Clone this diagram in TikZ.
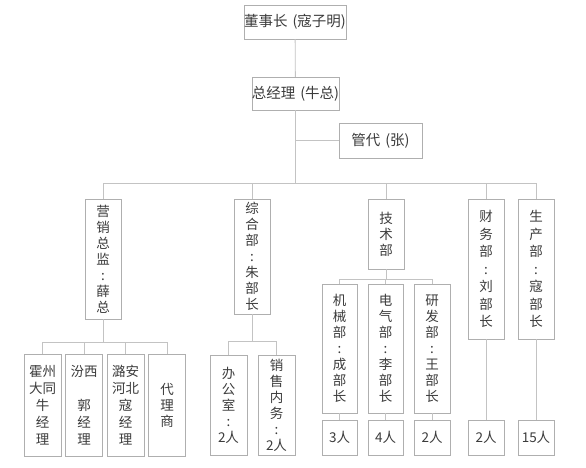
\documentclass[tikz,border=0pt]{standalone}
\usepackage{fontspec}
\setmainfont{Noto Sans CJK SC}
\definecolor{linegray}{RGB}{195,195,195}
\definecolor{boxgray}{RGB}{175,175,175}
\definecolor{txtgray}{RGB}{60,60,60}
\begin{document}
\begin{tikzpicture}[
        x=1pt, y=-1pt,
        box/.style={rectangle, draw=boxgray, fill=white, inner sep=0pt, align=center, text=txtgray,
            minimum width=36pt, font=\fontsize{13.5}{16}\selectfont},
        topbox/.style={box, font=\fontsize{14.5}{18}\selectfont},
        numbox/.style={box, minimum height=35pt},
        link/.style={draw=linegray, line width=0.8pt}
    ]
        \useasboundingbox (0,0) rectangle (586,468);

        % top
        \node[topbox, minimum width=100pt, minimum height=34pt] (dsz) at (295,22) {董事长\,\,(寇子明)};
        \node[topbox, minimum width=83pt, minimum height=33pt] (zjl) at (295.5,93.5) {总经理\,\,(牛总)};
        \node[topbox, minimum width=83pt, minimum height=35pt] (gd) at (380.5,140.5) {管代\,\,(张)};
        \coordinate (bus) at (295.5,183);

        % departments
        \node[box, minimum height=120pt] (yx) at (103,259) {营\\销\\总\\监\\:\\薛\\总};
        \node[box, minimum height=115pt] (zh) at (252,256.5) {综\\合\\部\\:\\朱\\部\\长};
        \node[box, minimum height=70pt] (js) at (386,234) {技\\术\\部};
        \node[box, minimum height=140pt, font=\fontsize{13.5}{17.5}\selectfont] (cw) at (486,269) {财\\务\\部\\:\\刘\\部\\长};
        \node[box, minimum height=140pt, font=\fontsize{13.5}{17.5}\selectfont] (sc) at (536,269) {生\\产\\部\\:\\寇\\部\\长};

        % sales
        \node[box, minimum width=37pt, minimum height=102pt, font=\fontsize{13.5}{17}\selectfont] (hz) at (42.5,405) {霍州\\大同\\牛\\经\\理};
        \node[box, minimum width=37pt, minimum height=102pt, font=\fontsize{13.5}{17}\selectfont] (fx) at (84,405) {汾西\\\phantom{大同}\\郭\\经\\理};
        \node[box, minimum width=37pt, minimum height=102pt, font=\fontsize{13.5}{17}\selectfont] (la) at (125.5,405) {潞安\\河北\\寇\\经\\理};
        \node[box, minimum width=37pt, minimum height=102pt] (dl) at (167,405) {代\\理\\商};

        % office
        \node[box, minimum width=37pt, minimum height=100pt] (bg) at (228.5,405) {办\\公\\室\\:\\2人};
        \node[box, minimum width=37pt, minimum height=100pt] (xs) at (276.5,405) {销\\售\\内\\务\\:\\2人};

        % technology
        \node[box, minimum width=35pt, minimum height=129pt] (jx) at (339.5,348.5) {机\\械\\部\\:\\成\\部\\长};
        \node[box, minimum width=35pt, minimum height=129pt] (dq) at (385.5,348.5) {电\\气\\部\\:\\李\\部\\长};
        \node[box, minimum height=129pt] (yf) at (432,348.5) {研\\发\\部\\:\\王\\部\\长};

        % head counts
        \node[numbox, minimum width=35pt] (jxn) at (339.5,437.5) {3人};
        \node[numbox, minimum width=35pt] (dqn) at (385.5,437.5) {4人};
        \node[numbox] (yfn) at (432,437.5) {2人};
        \node[numbox] (cwn) at (486,437.5) {2人};
        \node[numbox] (scn) at (536,437.5) {15人};

        \draw[link] (dsz) -- (zjl);
        \draw[link] (zjl.south) |- (gd.west);
        \foreach \d in {yx,zh,js,cw,sc}
            \draw[link] (zjl.south) -- (bus) -| (\d.north);
        \foreach \d in {hz,fx,la,dl}
            \draw[link] (yx.south) |- ([yshift=-23pt]yx.south) -| (\d.north);
        \foreach \d in {bg,xs}
            \draw[link] (zh.south) |- ([yshift=-27.5pt]zh.south) -| (\d.north);
        \foreach \d in {jx,dq,yf}
            \draw[link] (js.south) |- ([yshift=-10pt]js.south) -| (\d.north);
        \draw[link] (jx) -- (jxn);
        \draw[link] (dq) -- (dqn);
        \draw[link] (yf) -- (yfn);
        \draw[link] (cw) -- (cwn);
        \draw[link] (sc) -- (scn);
    \end{tikzpicture}
\end{document}
